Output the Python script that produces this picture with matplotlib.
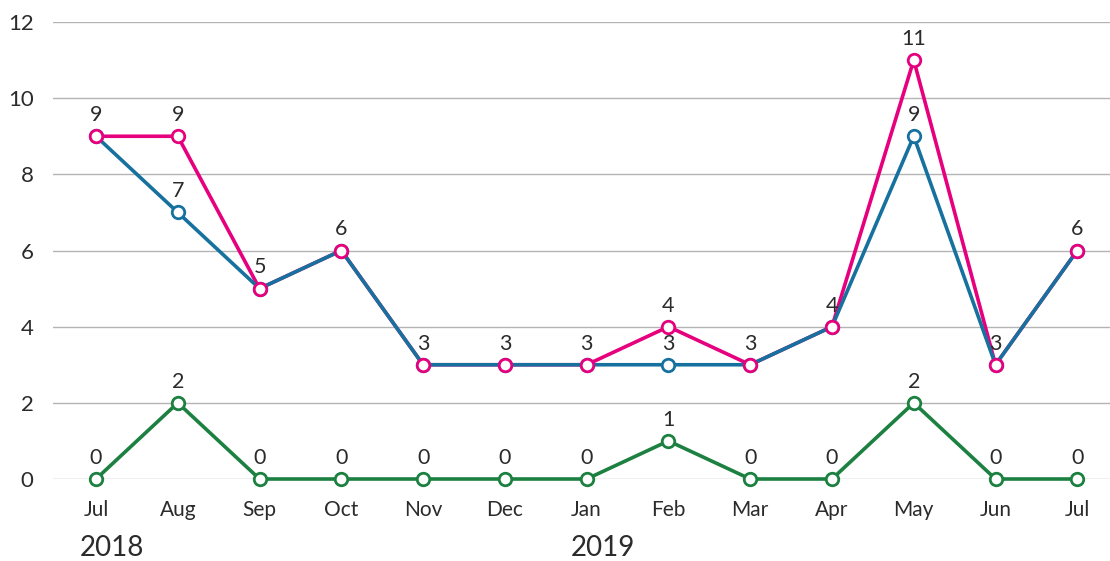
import numpy as np
import matplotlib
matplotlib.use("Agg")
import matplotlib.pyplot as plt

months = ["Jul", "Aug", "Sep", "Oct", "Nov", "Dec", "Jan", "Feb", "Mar", "Apr", "May", "Jun", "Jul"]
years = ["2018", "2019"]
year_start = [0, 6]
pink_vals = [9, 9, 5, 6, 3, 3, 3, 4, 3, 4, 11, 3, 6]
blue_vals = [9, 7, 5, 6, 3, 3, 3, 3, 3, 4, 9, 3, 6]
green_vals = [0, 2, 0, 0, 0, 0, 0, 1, 0, 0, 2, 0, 0]

PINK = "#e6007e"
BLUE = "#17719f"
GREEN = "#1b8040"
TXT = "#2b2b2b"

plt.rcParams['font.family'] = ['Lato', 'DejaVu Sans']

fig = plt.figure(figsize=(11.1, 5.61), dpi=100)
ax = fig.add_axes([53 / 1110, 1 - 479 / 561, 1 - 53 / 1110, (479 - 22) / 561])

x = np.arange(len(months))
ax.set_xlim(-0.526, len(months) - 1 + 0.4)
ax.set_ylim(0, 12)

for v, c in [(green_vals, GREEN), (pink_vals, PINK), (blue_vals, BLUE)]:
    ax.plot(x, v, color=c, lw=2.6, clip_on=False, zorder=3)
for v, c in [(green_vals, GREEN), (blue_vals, BLUE), (pink_vals, PINK)]:
    ax.plot(x, v, ls="none", marker="o", ms=9, mfc="white", mec=c, mew=2,
            clip_on=False, zorder=4)

def label(i, val):
    ax.annotate(str(val), (i, val), xytext=(0, 8), textcoords="offset points",
                ha="center", va="bottom", fontsize=15.5, color=TXT)

for i in x:
    p, b, g = pink_vals[i], blue_vals[i], green_vals[i]
    label(i, p)
    if b != p:
        label(i, b)
    label(i, g)

ax.set_yticks(range(0, 13, 2))
ax.grid(axis="y", color="#b4b4b4", lw=1)
ax.set_axisbelow(True)
for s in ax.spines.values():
    s.set_visible(False)
ax.tick_params(axis="y", length=0, pad=14, labelsize=16, labelcolor=TXT)
ax.set_xticks(x)
ax.set_xticklabels(months)
ax.tick_params(axis="x", length=0, pad=15, labelsize=15, labelcolor=TXT)

for yr, pos in zip(years, year_start):
    ax.annotate(yr, (pos, 0), xytext=(-16, -56), textcoords="offset pixels",
                ha="left", va="top", fontsize=20, color=TXT, annotation_clip=False)

fig.savefig("out.png", dpi=100)
